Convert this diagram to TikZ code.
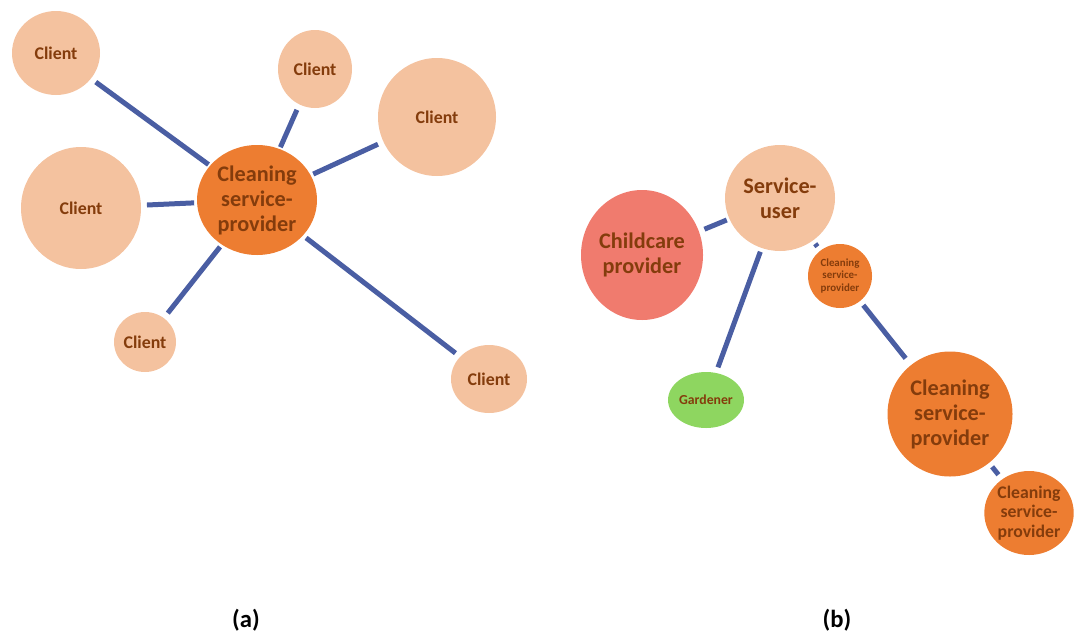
\documentclass[tikz,border=0pt]{standalone}
\usepackage{fontspec}
\setmainfont{Carlito}
\usetikzlibrary{shapes.geometric}
\definecolor{clientc}{HTML}{F4C29F}
\definecolor{orangec}{HTML}{ED7D31}
\definecolor{childc}{HTML}{F07B6E}
\definecolor{gardc}{HTML}{8ED660}
\definecolor{txtc}{HTML}{843C0C}
\definecolor{linec}{HTML}{4A5EA3}
\tikzset{
  bubble/.style={ellipse, inner sep=0pt, outer sep=0pt, align=center, text=txtc},
  sz/.style 2 args={minimum width=#1*1.5pt, minimum height=#2*1.5pt},
  client/.style={bubble, fill=clientc, font=\fontsize{13.4}{16}\bfseries\selectfont},
  bigtxt/.style={font=\fontsize{16.7}{18.7}\bfseries\selectfont},
  link/.style={draw=linec, line width=3.75pt},
  caption/.style={font=\fontsize{18.5}{21}\bfseries\selectfont, text=black}
}
\begin{document}
\begin{tikzpicture}[x=0.75pt,y=-0.75pt]
\useasboundingbox (0,0) rectangle (1080,632);
% (a)
\node[client, sz={44}{42}] (c1) at (56,53) {Client};
\node[client, sz={37}{39}] (c2) at (315,69) {Client};
\node[client, sz={59}{59}] (c3) at (437,117) {Client};
\node[client, sz={60}{61}] (c4) at (81,208) {Client};
\node[client, sz={31}{30}] (c5) at (145,342) {Client};
\node[client, sz={38}{34}] (c6) at (489,379) {Client};
\node[bubble, fill=orangec, sz={60}{55}, bigtxt] (cc) at (257,200) {Cleaning\\service-\\provider};
\draw[link, shorten <=4.5pt, shorten >=1.5pt] (c1) -- (cc);
\draw[link, shorten <=4.5pt, shorten >=1.5pt] (c2) -- (cc);
\draw[link, shorten <=4.5pt, shorten >=2.2pt] (c3) -- (cc);
\draw[link, shorten <=4.5pt, shorten >=2.2pt] (c4) -- (cc);
\draw[link, shorten <=4.8pt, shorten >=2.2pt] (c5) -- (cc);
\draw[link, shorten <=4.5pt, shorten >=3pt] (c6) -- (cc);
% (b)
\node[bubble, fill=clientc, sz={55}{53}, bigtxt] (su) at (780,198) {Service-\\user};
\node[bubble, fill=childc, sz={61}{65}, bigtxt] (ch) at (642,255) {Childcare\\provider};
\node[bubble, fill=orangec, sz={32}{32}, font=\fontsize{8.2}{9.2}\bfseries\selectfont] (s1) at (840,276) {Cleaning\\service-\\provider};
\node[bubble, fill=gardc, sz={31}{28}, font=\fontsize{10.3}{12}\bfseries\selectfont] (gd) at (706,400) {Gardener};
\node[bubble, fill=orangec, sz={62.5}{62.5}, bigtxt] (s2) at (950,414) {Cleaning\\service-\\provider};
\node[bubble, fill=orangec, sz={44}{42}, font=\fontsize{13.3}{14.8}\bfseries\selectfont] (s3) at (1029,513) {Cleaning\\service-\\provider};
\draw[link, shorten <=4.5pt, shorten >=2.2pt] (ch) -- (su);
\draw[link, shorten <=3pt, shorten >=4.5pt] (su) -- (gd);
\draw[link, shorten <=3pt, shorten >=3.8pt] (su) -- (s1);
\draw[link, shorten <=4pt, shorten >=6.5pt] (s1) -- (s2);
\draw[link, shorten <=3.8pt, shorten >=4.5pt] (s2) -- (s3);
% captions
\node[caption] (la) at (246,620) {(a)};
\node[caption] (lb) at (837,620) {(b)};
\end{tikzpicture}
\end{document}
